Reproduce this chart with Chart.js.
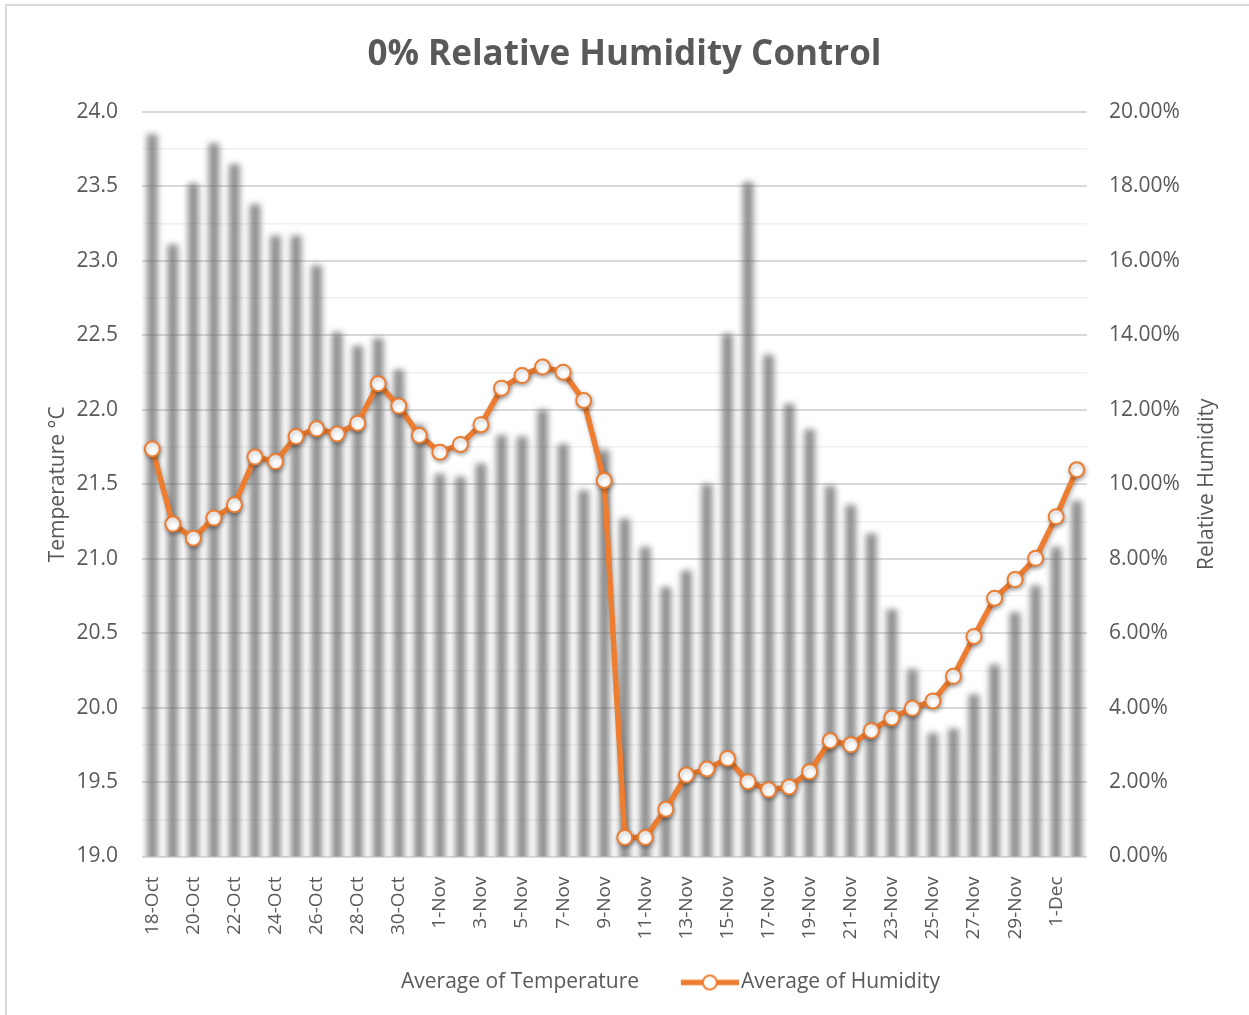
<!DOCTYPE html>
<html><head><meta charset="utf-8">
<script src="https://cdn.jsdelivr.net/npm/chart.js@4.4.0/dist/chart.umd.min.js"></script>
<style>html,body{margin:0;padding:0;background:#fff;}#wrap{position:relative;width:1249px;height:1015px;}</style>
</head><body><div id="wrap"><canvas id="c" width="1249" height="1015"></canvas></div>
<script>
const chartTitle = '0% Relative Humidity Control';
const categories = ['18-Oct','19-Oct','20-Oct','21-Oct','22-Oct','23-Oct','24-Oct','25-Oct','26-Oct','27-Oct','28-Oct','29-Oct','30-Oct','31-Oct',
  '1-Nov','2-Nov','3-Nov','4-Nov','5-Nov','6-Nov','7-Nov','8-Nov','9-Nov','10-Nov','11-Nov','12-Nov','13-Nov','14-Nov','15-Nov','16-Nov','17-Nov','18-Nov','19-Nov','20-Nov',
  '21-Nov','22-Nov','23-Nov','24-Nov','25-Nov','26-Nov','27-Nov','28-Nov','29-Nov','30-Nov','1-Dec','2-Dec'];
const temperature = [23.85,23.11,23.52,23.79,23.65,23.38,23.17,23.17,22.97,22.52,22.43,22.48,22.27,21.90,
  21.57,21.55,21.64,21.83,21.82,22.00,21.77,21.46,21.73,21.27,21.08,20.81,20.92,21.50,22.51,23.53,22.37,22.04,21.87,21.49,
  21.36,21.17,20.66,20.26,19.83,19.86,20.09,20.29,20.64,20.82,21.08,21.39];
const humidity = [10.95,8.93,8.55,9.09,9.45,10.73,10.61,11.28,11.49,11.35,11.64,12.70,12.10,11.31,
  10.86,11.07,11.60,12.58,12.92,13.15,13.01,12.25,10.10,0.51,0.51,1.27,2.19,2.35,2.63,2.01,1.79,1.87,2.28,3.11,
  3.00,3.38,3.72,3.98,4.18,4.84,5.91,6.94,7.44,8.01,9.13,10.39];
const tempAxis = {min: 19, max: 24, step: 0.25, labelStep: 0.5, title: 'Temperature °C'};
const humAxis = {min: 0, max: 20, step: 2, title: 'Relative Humidity'};
const seriesNames = ['Average of Temperature', 'Average of Humidity'];

const FONT = "'Open Sans', sans-serif";
const TXT = '#595959';
const ORANGE = '#ED7D31';

// legend swatches
const sw = document.createElement('canvas'); sw.width = 98; sw.height = 20;
(function(){const g = sw.getContext('2d'); g.strokeStyle = ORANGE; g.lineWidth = 5.5; g.beginPath(); g.moveTo(40,10); g.lineTo(98,10); g.stroke();
  g.beginPath(); g.arc(69,10,7,0,Math.PI*2); g.fillStyle='#fff'; g.fill(); g.lineWidth=2; g.stroke();})();
const blank = document.createElement('canvas'); blank.width = 1; blank.height = 1;

const effects = {
  id: 'effects',
  beforeDraw(chart){ const c = chart.ctx; c.save(); c.fillStyle='#fff'; c.fillRect(0,0,chart.width,chart.height);
    c.strokeStyle='#d9d9d9'; c.lineWidth=2; c.beginPath(); c.moveTo(6,1015); c.lineTo(6,5); c.lineTo(1249,5); c.stroke(); c.restore(); },
  beforeDatasetDraw(chart, args){ const c = chart.ctx; c.save();
    if (args.index === 0) { c.filter = 'blur(3.3px)'; }
    else { c.shadowColor = 'rgba(0,0,0,0.3)'; c.shadowBlur = 4; c.shadowOffsetX = 1; c.shadowOffsetY = 2; } },
  afterDatasetDraw(chart){ chart.ctx.restore(); },
  afterDraw(chart){ const c = chart.ctx; const a = chart.chartArea; c.save();
    c.translate(1207, (a.top + a.bottom)/2); c.rotate(-Math.PI/2); c.font = "21px " + FONT; c.fillStyle = TXT;
    c.textAlign='center'; c.textBaseline='middle'; c.fillText(humAxis.title, 0, 0); c.restore(); }
};

new Chart(document.getElementById('c'), {
  data: {
    labels: categories,
    datasets: [
      {type:'bar', label: seriesNames[0], data: temperature, yAxisID:'y', order: 2,
       backgroundColor:'rgba(98,98,98,0.72)', barPercentage: 0.52, categoryPercentage: 1, base: 18.7},
      {type:'line', label: seriesNames[1], data: humidity, yAxisID:'y1', order: 1,
       borderColor: ORANGE, borderWidth: 5.5, tension: 0, pointRadius: 7.5, pointHoverRadius: 7.5,
       pointBackgroundColor:'#fff', pointBorderColor: ORANGE, pointBorderWidth: 2}
    ]
  },
  options: {
    responsive:false, animation:false, devicePixelRatio:1,
    layout:{padding:{left:10,right:10,top:0,bottom:12}},
    plugins:{
      tooltip:{enabled:false},
      title:{display:true, text: chartTitle, color: TXT, font:{family:FONT, size:35, weight:'bold'}, padding:{top:34,bottom:36}},
      legend:{position:'bottom', labels:{color:TXT, font:{family:FONT,size:21}, usePointStyle:true, pointStyleWidth:81.5, padding:10,
        sort(a, b){ return a.datasetIndex - b.datasetIndex; },
        generateLabels(chart){ const items = Chart.defaults.plugins.legend.labels.generateLabels(chart);
          items.forEach(it => { it.pointStyle = it.datasetIndex === 0 ? blank : sw; }); return items; }}}
    },
    scales:{
      x:{grid:{display:false}, border:{display:false},
         ticks:{color:TXT, font:{family:FONT,size:19}, minRotation:90, maxRotation:90, autoSkip:false, padding:12,
           callback(v, i){ return i % 2 === 0 ? categories[i] : ''; }},
         afterFit(s){ s.height = 105.5; }},
      y:{position:'left', min: tempAxis.min, max: tempAxis.max,
         grid:{drawTicks:false, color(ctx){ return (ctx.tick && ctx.tick.value % tempAxis.labelStep === 0) ? '#d9d9d9' : '#f0f0f0'; },
               lineWidth(ctx){ return (ctx.tick && ctx.tick.value % tempAxis.labelStep === 0) ? 2 : 1.5; }},
         border:{display:false},
         ticks:{stepSize: tempAxis.step, color:TXT, font:{family:FONT,size:21}, padding:24,
           callback(v){ return v % tempAxis.labelStep === 0 ? v.toFixed(1) : ''; }},
         title:{display:true, text: tempAxis.title, color:TXT, font:{family:FONT,size:21}, padding:{top:35,bottom:0}},
         afterFit(s){ s.width = 132; }},
      y1:{position:'right', min: humAxis.min, max: humAxis.max, grid:{display:false}, border:{display:false},
         ticks:{stepSize: humAxis.step, color:TXT, font:{family:FONT,size:21}, padding:14,
           callback(v){ return v.toFixed(2) + '%'; }},
         afterFit(s){ s.width = 152; }}
    }
  },
  plugins:[effects]
});
</script></body></html>
